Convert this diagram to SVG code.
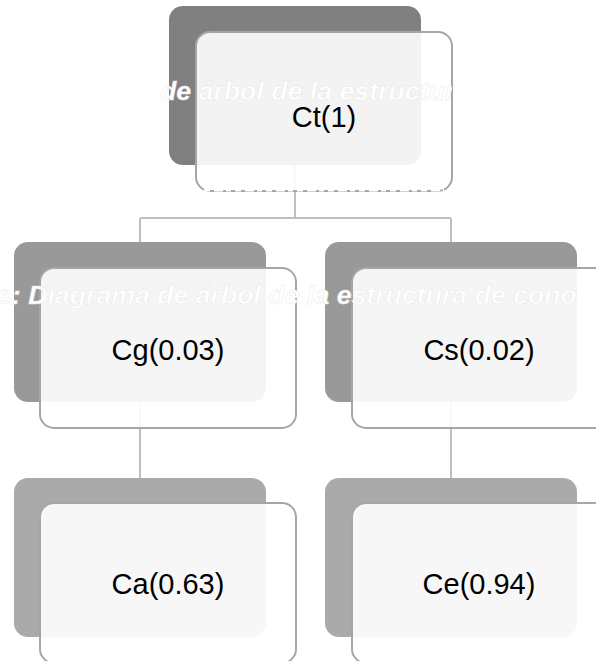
<svg xmlns="http://www.w3.org/2000/svg" width="596" height="661" viewBox="0 0 596 661">
<style>
.back{stroke:none}
.front{fill:#ffffff;fill-opacity:0.9;stroke:#a6a6a6;stroke-width:2}
.lbl{font-family:"Liberation Sans",Arial,sans-serif;font-size:29px;fill:#000;text-anchor:middle}
.cap{font-family:"Liberation Sans",Arial,sans-serif;font-size:26.7px;font-weight:bold;font-style:italic;fill:#ffffff;stroke:#e6e6e6;stroke-width:0.4}
.conn{fill:none;stroke:#bfbfbf;stroke-width:2}
</style>
<defs>
<clipPath id="clipTop"><rect x="150" y="0" width="302" height="200"/></clipPath>
<clipPath id="clipMid"><rect x="0" y="240" width="577" height="100"/></clipPath>
</defs>
<rect width="596" height="661" fill="#ffffff"/>
<g id="connectors">
<path class="conn" d="M295,165 V218 M140,218 H451 M140,218 V242 M451,218 V242"/>
<path class="conn" d="M140,402 V478 M451,402 V478"/>
</g>
<g id="node-ct">
<rect class="back" x="169" y="6" width="252" height="159" rx="14" fill="#808080"/>
<rect class="front" x="196" y="32" width="256" height="159" rx="14"/>
<text class="lbl" x="324" y="127">Ct(1)</text>
</g>
<g id="node-cg">
<rect class="back" x="14" y="242" width="252" height="160" rx="14" fill="#999999"/>
<rect class="front" x="40" y="268" width="256" height="160" rx="14"/>
<text class="lbl" x="168" y="360">Cg(0.03)</text>
</g>
<g id="node-cs">
<rect class="back" x="325" y="242" width="252" height="160" rx="14" fill="#999999"/>
<rect class="front" x="352" y="268" width="256" height="160" rx="14"/>
<text class="lbl" x="479" y="360">Cs(0.02)</text>
</g>
<g id="node-ca">
<rect class="back" x="14" y="478" width="252" height="159" rx="14" fill="#aaaaaa"/>
<rect class="front" x="40" y="503" width="256" height="160" rx="14"/>
<text class="lbl" x="168" y="594">Ca(0.63)</text>
</g>
<g id="node-ce">
<rect class="back" x="325" y="478" width="252" height="159" rx="14" fill="#aaaaaa"/>
<rect class="front" x="352" y="503" width="256" height="160" rx="14"/>
<text class="lbl" x="479" y="594">Ce(0.94)</text>
</g>
<g id="caption-fragments">
<text class="cap" x="160" y="100" clip-path="url(#clipTop)">de árbol de la estructura</text>
<text class="cap" x="-3" y="304" clip-path="url(#clipMid)">s: Diagrama de árbol de la estructura de conocimiento</text>
<path d="M204,190 H444" stroke="#ffffff" stroke-width="3" stroke-dasharray="6 4 9 3 5 4"/>
</g>
</svg>
